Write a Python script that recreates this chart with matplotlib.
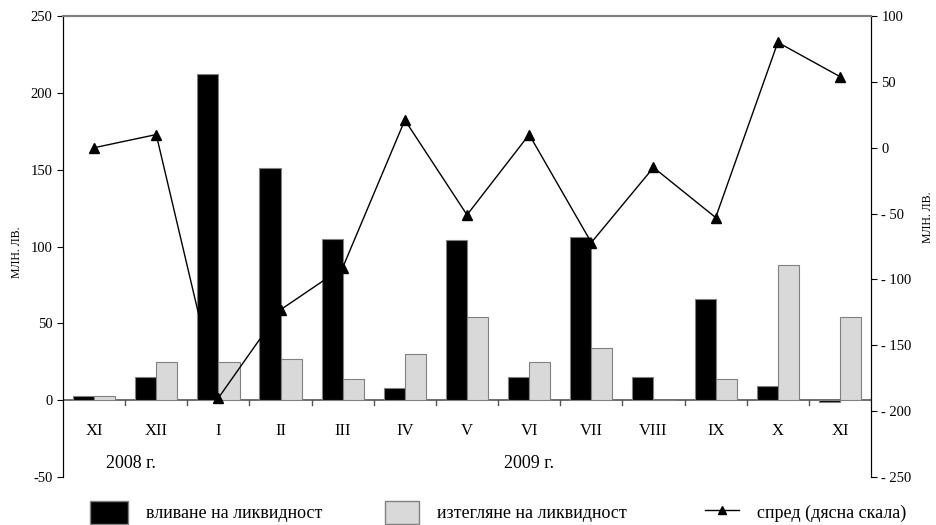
import numpy as np
import matplotlib.pyplot as plt
from matplotlib.patches import Patch
from matplotlib.lines import Line2D

plt.rcParams['font.family'] = ['Liberation Serif', 'DejaVu Serif']
plt.rcParams['axes.unicode_minus'] = False

# data
months = ['XI', 'XII', 'I', 'II', 'III', 'IV', 'V', 'VI', 'VII', 'VIII', 'IX', 'X', 'XI']
inflow = [3, 15, 212, 151, 105, 8, 104, 15, 106, 15, 66, 9, -1]
outflow = [3, 25, 25, 27, 14, 30, 54, 25, 34, 0, 14, 88, 54]
spread = [0, 10, -190, -123, -91, 21, -51, 10, -72, -15, -53, 80, 54]

x = np.arange(len(months))
w = 0.34

fig = plt.figure(figsize=(9.36, 5.25), dpi=100)
ax = fig.add_axes([0.0673, 0.0914, 0.8633, 0.8781])
ax2 = ax.twinx()

ax.bar(x - w / 2, inflow, w, color='black', edgecolor='#808080', linewidth=0.8, zorder=2)
ax.bar(x + w / 2, outflow, w, color='#d9d9d9', edgecolor='#808080', linewidth=0.8, zorder=2)

ax2.plot(x, spread, color='black', linewidth=1, marker='^', markersize=7, zorder=3)

# axes limits
ax.set_xlim(-0.5, len(months) - 0.5)
ax.set_ylim(-50, 250)
ax2.set_ylim(-250, 100)
ax.set_yticks(np.arange(-50, 251, 50))
ax2.set_yticks(np.arange(-250, 101, 50))
ax2.set_yticklabels([str(v) if v >= 0 else '- ' + str(-v) for v in range(-250, 101, 50)])

# spines
for a in (ax, ax2):
    a.spines['bottom'].set_visible(False)
    a.spines['top'].set_color('#808080')
    a.spines['top'].set_linewidth(1.5)
ax.axhline(0, color='#555555', linewidth=1.2, zorder=1)

# boundary ticks on the zero line
for b in x[:-1] + 0.5:
    ax.plot([b, b], [0, -3.2], color='#555555', linewidth=1, clip_on=False)
ax.set_xticks([])

ax.tick_params(axis='y', labelsize=10.5, length=4, direction='out')
ax2.tick_params(axis='y', labelsize=10.5, length=4, direction='out')

# month labels and years
for i, m in enumerate(months):
    ax.text(i, -20, m, ha='center', va='center', fontsize=12)
ax.text(0.6, -41, '2008 г.', ha='center', va='center', fontsize=13)
ax.text(7.0, -41, '2009 г.', ha='center', va='center', fontsize=13)

fig.text(0.018, 0.52, 'МЛН. ЛВ.', rotation=90, ha='center', va='center', fontsize=8.5)
fig.text(0.991, 0.586, 'МЛН. ЛВ.', rotation=90, ha='center', va='center', fontsize=8.5)

# legend, one entry at a time so the positions match
handles = [Patch(facecolor='black', edgecolor='#808080'),
           Patch(facecolor='#d9d9d9', edgecolor='#808080'),
           Line2D([], [], color='black', linewidth=1, marker='^', markersize=6)]
labels = ['вливане на ликвидност', 'изтегляне на ликвидност', 'спред (дясна скала)']
lx = [90 / 936, 385 / 936, 705 / 936]
hl = [2.1, 1.9, 1.9]
for h, l, px, L in zip(handles, labels, lx, hl):
    fig.legend([h], [l], loc='lower left', bbox_to_anchor=(px, 0.002), frameon=False,
               fontsize=13, handlelength=L, handleheight=1.6, handletextpad=1.0,
               borderpad=0, borderaxespad=0)

plt.savefig('out.png', dpi=100)
